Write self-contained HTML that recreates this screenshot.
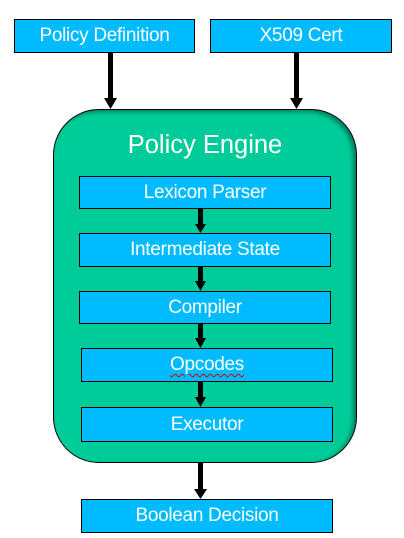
<!DOCTYPE html><html><head><style>
body{margin:0;width:404px;height:538px;background:#fff;position:relative;overflow:hidden;font-family:"Liberation Sans",sans-serif}
.b{position:absolute;background:#00bbff;border:1.5px solid #000;box-sizing:border-box;color:#fff;text-align:center;font-size:19px;display:flex;align-items:center;justify-content:center;letter-spacing:-0.3px}
.eng{position:absolute;left:53px;top:109px;width:304px;height:354px;background:#00cc99;border:1.5px solid #000;box-sizing:border-box;border-radius:46px;box-shadow:-3px 2px 4px rgba(0,0,0,.4) inset}
.t{position:absolute;left:53px;width:304px;top:131px;text-align:center;color:#fff;font-size:25.5px}
</style></head><body>
<div class="b" style="left:14px;top:19px;width:181px;height:34px">Policy Definition</div>
<div class="b" style="left:210px;top:19px;width:182px;height:34px">X509 Cert</div>
<div class="eng"></div>
<div class="t">Policy Engine</div>
<div class="b" style="left:79px;top:176px;width:252px;height:33px">Lexicon Parser</div>
<div class="b" style="left:79px;top:233px;width:252px;height:34px">Intermediate State</div>
<div class="b" style="left:79px;top:291px;width:252px;height:33px">Compiler</div>
<div class="b" style="left:81px;top:348px;width:252px;height:34px"><span style="text-decoration:underline wavy #d00;text-underline-offset:3px;text-decoration-thickness:1px">Opcodes</span></div>
<div class="b" style="left:81px;top:407px;width:252px;height:35px">Executor</div>
<div class="b" style="left:81px;top:499px;width:252px;height:34px">Boolean Decision</div>
<svg width="404" height="538" style="position:absolute;left:0;top:0">
<g fill="#000" stroke="none">
<rect x="108" y="53" width="5" height="46"/><polygon points="104,98 117,98 110.5,109"/>
<rect x="294" y="53" width="5" height="46"/><polygon points="290,98 303,98 296.5,109"/>
<rect x="198" y="209" width="5" height="16"/><polygon points="195,224 206,224 200.5,233"/>
<rect x="198" y="267" width="5" height="15"/><polygon points="195,281 206,281 200.5,291"/>
<rect x="198" y="324" width="5" height="15"/><polygon points="195,338 206,338 200.5,348"/>
<rect x="198" y="382" width="5" height="16"/><polygon points="195,397 206,397 200.5,407"/>
<rect x="198" y="463" width="5" height="27"/><polygon points="194,489 207,489 200.5,499"/>
</g></svg>
</body></html>
